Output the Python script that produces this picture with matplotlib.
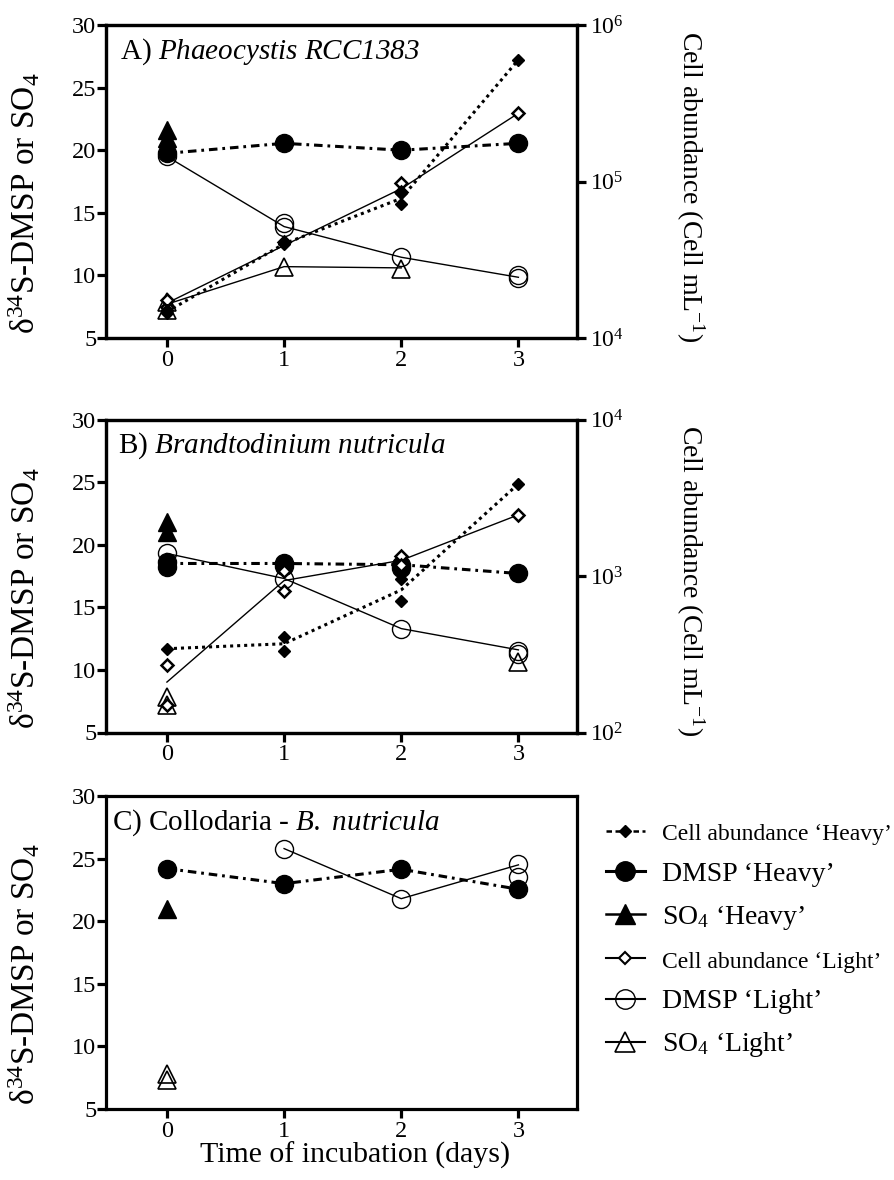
import numpy as np
import matplotlib
matplotlib.use('Agg')
import matplotlib.pyplot as plt
from matplotlib.lines import Line2D

plt.rcParams['font.family'] = ['Liberation Serif', 'DejaVu Serif']
plt.rcParams['mathtext.fontset'] = 'custom'
plt.rcParams['mathtext.rm'] = 'Liberation Serif'
plt.rcParams['mathtext.it'] = 'Liberation Serif:italic'
plt.rcParams['mathtext.sf'] = 'Liberation Serif:italic'
plt.rcParams['mathtext.bf'] = 'Liberation Serif:bold'

nan = np.nan
days = [0, 1, 2, 3]
day_labels = ['0', '1', '2', '3']
left_ticks = [5, 10, 15, 20, 25, 30]

# ---------------- Panel A : Phaeocystis RCC1383 ----------------
A_title = r"A) $\mathsf{Phaeocystis\ RCC1383}$"
A_cellH_x = [0, 0, 1, 2, 2, 3]
A_cellH_y = [1.45e4, 1.5e4, 4.0e4, 7.2e4, 8.4e4, 6.0e5]
A_cellH_line = [1.47e4, 4.0e4, 7.8e4, 6.0e5]
A_cellL_x = [0, 0, 1, 2, 2, 3]
A_cellL_y = [1.58e4, 1.75e4, 4.1e4, 9.8e4, 8.6e4, 2.73e5]
A_cellL_line = [1.67e4, 3.9e4, 9.0e4, 2.73e5]
A_dmspH_x = [0, 1, 2, 3]
A_dmspH_y = [19.75, 20.55, 20.0, 20.55]
A_dmspH_line = [19.75, 20.55, 20.0, 20.55]
A_dmspL_x = [0, 1, 1, 2, 3, 3]
A_dmspL_y = [19.5, 14.2, 13.9, 11.5, 10.0, 9.8]
A_dmspL_line = [19.5, 13.9, 11.45, 9.85]
A_so4H_x = [0, 0, 0]
A_so4H_y = [21.6, 21.0, 20.4]
A_so4L_x = [0, 0, 1, 2]
A_so4L_y = [7.9, 7.2, 10.65, 10.55]
A_so4L_line = [7.7, 10.7, 10.6, nan]
A_right_ticks = [1e4, 1e5, 1e6]
A_right_labels = [r'$10^{4}$', r'$10^{5}$', r'$10^{6}$']

# ---------------- Panel B : Brandtodinium nutricula ----------------
B_title = r"B) $\mathsf{Brandtodinium\ nutricula}$"
B_cellH_x = [0, 1, 1, 2, 2, 3]
B_cellH_y = [343, 406, 331, 960, 697, 3880]
B_cellH_line = [343, 369, 815, 3880]
B_cellL_x = [0, 0, 1, 1, 2, 2, 3]
B_cellL_y = [268, 150, 805, 1080, 1350, 1170, 2460]
B_cellL_line = [210, 935, 1260, 2460]
B_dmspH_x = [0, 0, 1, 1, 2, 2, 3]
B_dmspH_y = [18.6, 18.2, 18.5, 18.3, 18.4, 18.1, 17.7]
B_dmspH_line = [18.5, 18.5, 18.4, 17.7]
B_dmspL_x = [0, 1, 2, 3, 3]
B_dmspL_y = [19.35, 17.3, 13.3, 11.5, 11.3]
B_dmspL_line = [19.3, 17.3, 13.3, 11.6]
B_so4H_x = [0, 0]
B_so4H_y = [21.8, 21.0]
B_so4L_x = [0, 0, 3]
B_so4L_y = [7.8, 7.2, 10.6]
B_right_ticks = [1e2, 1e3, 1e4]
B_right_labels = [r'$10^{2}$', r'$10^{3}$', r'$10^{4}$']

# ---------------- Panel C : Collodaria - B. nutricula ----------------
C_title = r"C) Collodaria - $\mathsf{B.\ nutricula}$"
C_dmspH_x = [0, 1, 2, 3]
C_dmspH_y = [24.2, 23.0, 24.15, 22.55]
C_dmspH_line = [24.2, 23.0, 24.15, 22.55]
C_dmspL_x = [1, 2, 3, 3]
C_dmspL_y = [25.8, 21.8, 24.6, 23.55]
C_dmspL_line = [nan, 25.8, 21.8, 24.5]
C_so4H_x = [0]
C_so4H_y = [20.95]
C_so4L_x = [0, 0]
C_so4L_y = [7.8, 7.3]

legend_labels = ["Cell abundance \u2018Heavy\u2019",
                 "DMSP \u2018Heavy\u2019",
                 "SO$_4$ \u2018Heavy\u2019",
                 "Cell abundance \u2018Light\u2019",
                 "DMSP \u2018Light\u2019",
                 "SO$_4$ \u2018Light\u2019"]

ylabel_left = "\u03b4" + r"$^{34}$S-DMSP or SO$_4$"
ylabel_right = r"Cell abundance (Cell mL$^{-1}$)"
xlabel = "Time of incubation (days)"

# ---------------- styles ----------------
K = 'black'
DOT = (0, (1.0, 1.3))
DASHDOT = (0, (2.8, 1.6, 0.9, 1.6))
SPW = 2.3
TICK_FS = 17.5

fig = plt.figure(figsize=(8.94, 11.8), dpi=100)
W, H = 894.0, 1180.0
left = 106 / W
width = 471 / W
height = 313 / H
bottoms = [1 - 338 / H, 1 - 732.5 / H, 1 - 1109 / H]


def style_axes(ax):
    for s in ax.spines.values():
        s.set_linewidth(SPW)
    ax.set_xlim(-0.52, 3.5)
    ax.set_ylim(5, 30)
    ax.set_xticks(days)
    ax.set_xticklabels(day_labels)
    ax.set_yticks(left_ticks)
    ax.tick_params(axis='both', direction='out', length=6.5, width=SPW,
                   labelsize=TICK_FS, pad=2)
    ax.tick_params(axis='y', pad=0.5)
    ax.tick_params(top=False, right=False)
    ax.set_ylabel(ylabel_left, fontsize=24, va='center')
    ax.yaxis.set_label_coords(-0.172, 0.43)


def style_right(ax2, ticks, labels, lo, hi):
    ax2.set_yscale('log')
    ax2.set_ylim(lo, hi)
    ax2.set_yticks(ticks)
    ax2.set_yticklabels(labels)
    ax2.minorticks_off()
    ax2.tick_params(axis='y', direction='out', length=6.5, width=SPW,
                    labelsize=17, pad=3)
    for s in ax2.spines.values():
        s.set_linewidth(SPW)
    ax2.set_ylabel(ylabel_right, fontsize=20, rotation=270, va='center')
    ax2.yaxis.set_label_coords(1.24, 0.485)


def plot_cell(ax2, hx, hy, hline, lx, ly, lline):
    ax2.plot(days, lline, color=K, lw=1.0, zorder=3)
    ax2.plot(lx, ly, ls='none', marker='D', ms=6.5, mfc='white', mec=K, mew=1.8, zorder=4)
    ax2.plot(days, hline, color=K, lw=2.2, ls=DOT, zorder=3)
    ax2.plot(hx, hy, ls='none', marker='D', ms=6.5, mfc=K, mec=K, zorder=5)


def plot_sulfur(ax, dHx, dHy, dHline, dLx, dLy, dLline, sHx, sHy, sLx, sLy, sLline=None):
    if dLline is not None:
        ax.plot(days, dLline, color=K, lw=1.0, zorder=3)
    ax.plot(dLx, dLy, ls='none', marker='o', ms=13, mfc='none', mec=K, mew=1.0, zorder=4)
    ax.plot(days, dHline, color=K, lw=2.2, ls=DASHDOT, zorder=3)
    ax.plot(dHx, dHy, ls='none', marker='o', ms=13, mfc=K, mec=K, zorder=5)
    if sLline is not None:
        ax.plot(days, sLline, color=K, lw=1.0, zorder=3)
    ax.plot(sLx, sLy, ls='none', marker='^', ms=13, mfc='none', mec=K, mew=1.2, zorder=4)
    ax.plot(sHx, sHy, ls='none', marker='^', ms=13, mfc=K, mec=K, zorder=5)


# Panel A
axA = fig.add_axes([left, bottoms[0], width, height])
style_axes(axA)
plot_sulfur(axA, A_dmspH_x, A_dmspH_y, A_dmspH_line, A_dmspL_x, A_dmspL_y, A_dmspL_line,
            A_so4H_x, A_so4H_y, A_so4L_x, A_so4L_y, A_so4L_line)
axA2 = axA.twinx()
style_right(axA2, A_right_ticks, A_right_labels, 1e4, 1e6)
plot_cell(axA2, A_cellH_x, A_cellH_y, A_cellH_line, A_cellL_x, A_cellL_y, A_cellL_line)
axA.text(0.03, 0.965, A_title, transform=axA.transAxes, fontsize=21, va='top', ha='left')

# Panel B
axB = fig.add_axes([left, bottoms[1], width, height])
style_axes(axB)
plot_sulfur(axB, B_dmspH_x, B_dmspH_y, B_dmspH_line, B_dmspL_x, B_dmspL_y, B_dmspL_line,
            B_so4H_x, B_so4H_y, B_so4L_x, B_so4L_y, None)
axB2 = axB.twinx()
style_right(axB2, B_right_ticks, B_right_labels, 1e2, 1e4)
plot_cell(axB2, B_cellH_x, B_cellH_y, B_cellH_line, B_cellL_x, B_cellL_y, B_cellL_line)
axB.text(0.025, 0.965, B_title, transform=axB.transAxes, fontsize=21, va='top', ha='left')

# Panel C
axC = fig.add_axes([left, bottoms[2], width, height])
style_axes(axC)
plot_sulfur(axC, C_dmspH_x, C_dmspH_y, C_dmspH_line, C_dmspL_x, C_dmspL_y, C_dmspL_line,
            C_so4H_x, C_so4H_y, C_so4L_x, C_so4L_y, None)
axC.text(0.012, 0.965, C_title, transform=axC.transAxes, fontsize=21, va='top', ha='left')
axC.set_xlabel(xlabel, fontsize=21.5)
axC.xaxis.set_label_coords(0.529, -0.104)
axC.xaxis.label.set_va('top')

# Legend
handles = [
    Line2D([], [], color=K, ls=(0, (2.2, 1.4)), lw=1.8, marker='D', ms=6, mfc=K, mec=K),
    Line2D([], [], color=K, lw=2.2, marker='o', ms=14, mfc=K, mec=K),
    Line2D([], [], color=K, lw=1.8, marker='^', ms=14, mfc=K, mec=K),
    Line2D([], [], color=K, lw=1.5, marker='D', ms=6.5, mfc='white', mec=K, mew=1.5),
    Line2D([], [], color=K, lw=1.5, marker='o', ms=14, mfc='none', mec=K, mew=1.0),
    Line2D([], [], color=K, lw=1.5, marker='^', ms=14, mfc='none', mec=K, mew=1.2),
]
leg = fig.legend(handles, legend_labels, loc='upper left',
                 bbox_to_anchor=(606 / W, 1 - 821 / H), frameon=False,
                 fontsize=20, handlelength=1.4, handletextpad=0.6,
                 labelspacing=0.58, borderpad=0, borderaxespad=0)
for i in (0, 3):
    leg.get_texts()[i].set_fontsize(17)

fig.savefig('out.png', dpi=100)
